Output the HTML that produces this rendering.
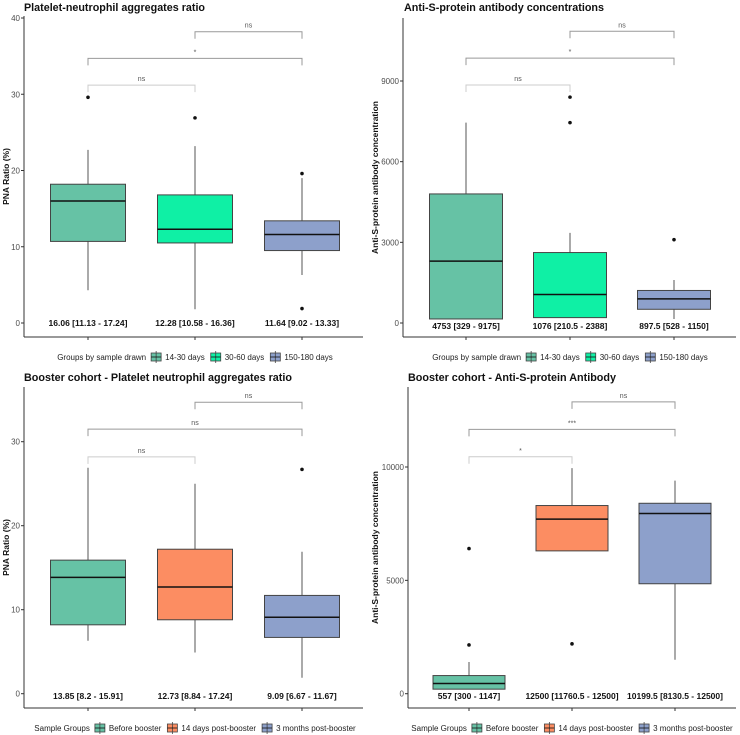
<!DOCTYPE html>
<html><head><meta charset="utf-8">
<style>
html,body{margin:0;padding:0;background:#fff;}
svg{display:block;font-family:"Liberation Sans",sans-serif;}
</style></head>
<body>
<svg id="chart" width="740" height="735" viewBox="0 0 740 735" xmlns="http://www.w3.org/2000/svg"></svg>
<script>
// ---- Data ----
const groupsA = ["14-30 days","30-60 days","150-180 days"];
const groupsB = ["Before booster","14 days post-booster","3 months post-booster"];
const colorsA = ["#66c2a5","#0ff0a5","#8da0cb"];
const colorsB = ["#66c2a5","#fc8d62","#8da0cb"];

// [whiskerLow, q1, median, q3, whiskerHigh]
const pnaBoxes = [[4.3,10.7,16.0,18.2,22.7],[1.8,10.5,12.3,16.8,23.2],[6.3,9.5,11.6,13.4,19.0]];
const pnaOutliers = [[29.6],[26.9],[19.6,1.9]];
const pnaSummary = ["16.06 [11.13 - 17.24]","12.28 [10.58 - 16.36]","11.64 [9.02 - 13.33]"];
const pnaTicks = [0,10,20,30,40];

const abBoxes = [[150,150,2300,4800,7450],[200,200,1060,2620,3350],[150,510,895,1210,1600]];
const abOutliers = [[],[8400,7450],[3100]];
const abSummary = ["4753 [329 - 9175]","1076 [210.5 - 2388]","897.5 [528 - 1150]"];
const abTicks = [0,3000,6000,9000];

const bPnaBoxes = [[6.3,8.2,13.85,15.9,26.9],[4.9,8.8,12.7,17.2,25.0],[1.9,6.7,9.1,11.7,16.9]];
const bPnaOutliers = [[],[],[26.7]];
const bPnaSummary = ["13.85 [8.2 - 15.91]","12.73 [8.84 - 17.24]","9.09 [6.67 - 11.67]"];
const bPnaTicks = [0,10,20,30];

const bAbBoxes = [[200,200,450,800,1400],[6300,6300,7700,8300,9950],[1500,4850,7950,8400,9400]];
const bAbOutliers = [[2150,6400],[2200],[]];
const bAbSummary = ["557 [300 - 1147]","12500 [11760.5 - 12500]","10199.5 [8130.5 - 12500]"];
const bAbTicks = [0,5000,10000];

// brackets: [fromIdx,toIdx,yValue,label]
const pnaBrackets = [[0,1,31.2,"ns"],[0,2,34.7,"*"],[1,2,38.2,"ns"]];
const abBrackets = [[0,1,8850,"ns"],[0,2,9850,"*"],[1,2,10850,"ns"]];
const bPnaBrackets = [[0,1,28.2,"ns"],[0,2,31.5,"ns"],[1,2,34.7,"ns"]];
const bAbBrackets = [[0,1,10450,"*"],[0,2,11660,"***"],[1,2,12870,"ns"]];

const NS="http://www.w3.org/2000/svg";
const svg=document.getElementById('chart');
function mk(tag,attrs,parent,text){const e=document.createElementNS(NS,tag);for(const k in attrs)e.setAttribute(k,attrs[k]);if(text!==undefined)e.textContent=text;(parent||svg).appendChild(e);return e;}

function panel(cfg){
  const g=mk('g',{});
  
  
  const y=v=>cfg.y0+(v-0)*(cfg.y1-cfg.y0)/(cfg.v1);
  const t=mk('text',{x:cfg.titleX,y:cfg.titleY,'font-size':11,'font-weight':'bold',fill:'#111',textLength:cfg.titleW,lengthAdjust:'spacingAndGlyphs'},g,cfg.title);
  
  
  const ya=mk('line',{x1:cfg.ax,y1:cfg.axTop,x2:cfg.ax,y2:cfg.axB,stroke:'#333','stroke-width':1},g);
  
  
  const xa=mk('line',{x1:cfg.ax,y1:cfg.axB,x2:cfg.right,y2:cfg.axB,stroke:'#333','stroke-width':1},g);
  
  
  cfg.ticks.forEach(v=>{
    mk('line',{x1:cfg.ax-3,x2:cfg.ax,y1:y(v),y2:y(v),stroke:'#333'},g);
    const tl=mk('text',{x:cfg.ax-4,y:y(v)+3,'font-size':8,fill:'#4d4d4d','text-anchor':'end'},g,String(v));
    
    
  });
  const yt=mk('text',{x:0,y:0,'font-size':8.5,'font-weight':'bold',fill:'#111','text-anchor':'middle',transform:`translate(${cfg.ytX},${(cfg.axTop+cfg.axB)/2}) rotate(-90)`},g,cfg.ytitle);
  
  
  const bw=cfg.bw;
  cfg.boxes.forEach((b,i)=>{
    const cx=cfg.cx[i];
    mk('line',{x1:cx,x2:cx,y1:cfg.axB,y2:cfg.axB+3,stroke:'#333'},g);
    const wl=mk('line',{x1:cx,x2:cx,y1:y(b[0]),y2:y(b[4]),stroke:'#555','stroke-width':1},g);
    
    
    const r=mk('rect',{x:cx-bw/2,y:y(b[3]),width:bw,height:y(b[1])-y(b[3]),fill:cfg.colors[i],stroke:'#444','stroke-width':1},g);
    
    
    const md=mk('line',{x1:cx-bw/2,x2:cx+bw/2,y1:y(b[2]),y2:y(b[2]),stroke:'#111','stroke-width':1.5},g);
    
    
    cfg.outliers[i].forEach(o=>{
      const c=mk('circle',{cx:cx,cy:y(o),r:1.8,fill:'#111'},g);
      
      
    });
    const s=mk('text',{x:cx,y:cfg.sumY,'font-size':8.5,'font-weight':'bold',fill:'#111','text-anchor':'middle'},g,cfg.summary[i]);
    
    
  });
  cfg.brackets.forEach((br,k)=>{
    const x1=cfg.cx[br[0]],x2=cfg.cx[br[1]],yy=y(br[2]);
    const col=k===0?'#ccc':'#999';
    const p=mk('path',{d:`M${x1},${yy+7}V${yy}H${x2}V${yy+7}`,fill:'none',stroke:col,'stroke-width':1},g);
    
    
    const lt=mk('text',{x:(x1+x2)/2,y:yy-4,'font-size':7,fill:'#555','text-anchor':'middle'},g,br[3]);
    
    
  });
  // legend
  const lg=mk('g',{},g);
  
  
  const fs=8;
  const ly=cfg.legY;
  const title=mk('text',{x:0,y:ly+3,'font-size':fs,fill:'#222'},lg,cfg.legTitle);
  let x=title.getComputedTextLength()+5;
  cfg.groups.forEach((gn,i)=>{
    const e=mk('g',{},lg);
    
    
    mk('rect',{x:x,y:ly-4,width:10,height:8,fill:cfg.colors[i],stroke:'#444','stroke-width':0.8},e);
    mk('line',{x1:x+5,x2:x+5,y1:ly-6,y2:ly+6,stroke:'#444','stroke-width':0.8},e);
    mk('line',{x1:x,x2:x+10,y1:ly,y2:ly,stroke:'#111','stroke-width':0.8},e);
    const tx=mk('text',{x:x+14,y:ly+3,'font-size':fs,fill:'#222'},e,gn);
    x+=14+tx.getComputedTextLength()+6;
  });
  x-=6;
  lg.setAttribute('transform',`translate(${cfg.legC-x/2},0)`);
}

panel({name:'panel-pna-ratio',title:'Platelet-neutrophil aggregates ratio',titleX:24,titleY:11,titleW:181,
  ax:24,axTop:16,axB:337,right:363,y0:323,y1:18,v1:40,ticks:pnaTicks,ytX:9,ytitle:'PNA Ratio (%)',
  cx:[88,195,302],bw:75,boxes:pnaBoxes,outliers:pnaOutliers,colors:colorsA,summary:pnaSummary,sumY:326,
  brackets:pnaBrackets,groups:groupsA,legTitle:'Groups by sample drawn',legC:195,legY:357});
panel({name:'panel-antibody',title:'Anti-S-protein antibody concentrations',titleX:404,titleY:11,titleW:200,
  ax:403,axTop:18,axB:337,right:736,y0:323,y1:81,v1:9000,ticks:abTicks,ytX:378,ytitle:'Anti-S-protein antibody concentration',
  cx:[466,570,674],bw:73,boxes:abBoxes,outliers:abOutliers,colors:colorsA,summary:abSummary,sumY:329,
  brackets:abBrackets,groups:groupsA,legTitle:'Groups by sample drawn',legC:570,legY:357});
panel({name:'panel-booster-pna',title:'Booster cohort - Platelet neutrophil aggregates ratio',titleX:24,titleY:381,titleW:268,
  ax:24,axTop:387,axB:708,right:363,y0:693.7,y1:441.7,v1:30,ticks:bPnaTicks,ytX:9,ytitle:'PNA Ratio (%)',
  cx:[88,195,302],bw:75,boxes:bPnaBoxes,outliers:bPnaOutliers,colors:colorsB,summary:bPnaSummary,sumY:699,
  brackets:bPnaBrackets,groups:groupsB,legTitle:'Sample Groups',legC:195,legY:728});
panel({name:'panel-booster-antibody',title:'Booster cohort - Anti-S-protein Antibody',titleX:408,titleY:381,titleW:208,
  ax:408,axTop:387,axB:708,right:736,y0:693.7,y1:467,v1:10000,ticks:bAbTicks,ytX:378,ytitle:'Anti-S-protein antibody concentration',
  cx:[469,572,675],bw:72,boxes:bAbBoxes,outliers:bAbOutliers,colors:colorsB,summary:bAbSummary,sumY:699,
  brackets:bAbBrackets,groups:groupsB,legTitle:'Sample Groups',legC:572,legY:728});
</script>
</body></html>
